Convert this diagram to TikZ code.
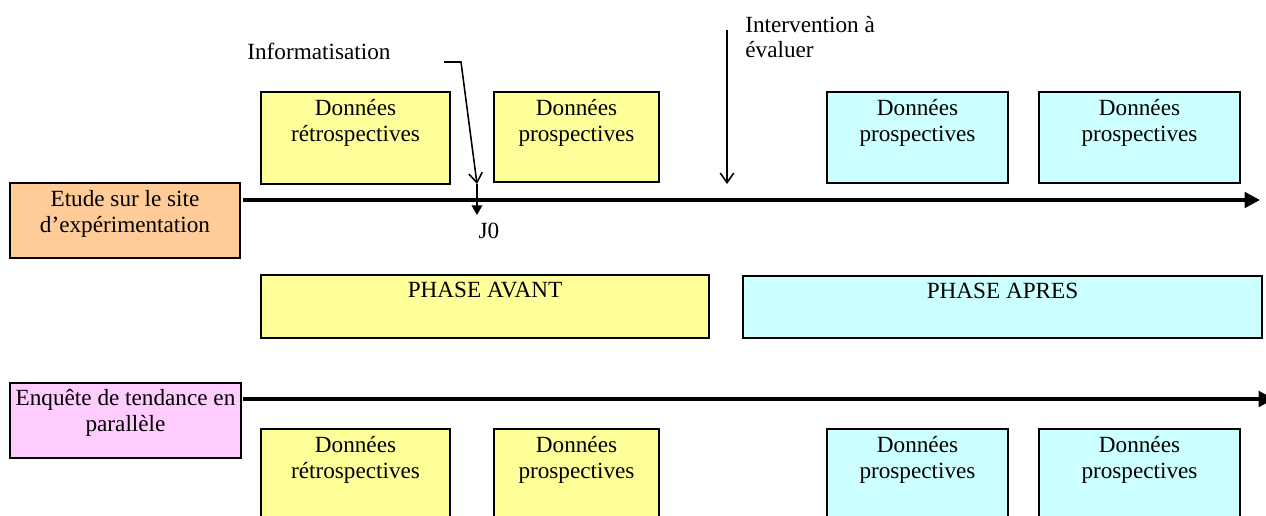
\documentclass[tikz,border=0pt]{standalone}
\usepackage{fontspec}
\setmainfont{Liberation Serif}
\usetikzlibrary{arrows.meta,calc,fit}
\definecolor{jaune}{HTML}{FFFF99}
\definecolor{bleuclair}{HTML}{CCFFFF}
\definecolor{orangeclair}{HTML}{FFCC99}
\definecolor{rose}{HTML}{FFCCFF}

\begin{document}
\begin{tikzpicture}[x=0.5172pt,y=-0.5172pt,
    boite/.style={draw, line width=0.75pt, inner sep=0pt, fit={#1}},
    texte/.style={font=\fontsize{12}{13.4}\selectfont, align=center, inner sep=0pt, anchor=base},
    axe/.style={line width=2pt, -{Triangle[length=8pt,width=8pt]}},
    fleche/.style={line width=0.8pt, -{Straight Barb[length=5pt,width=7pt]}},
    marque/.style={line width=0.8pt, -{Triangle[length=5pt,width=5.5pt]}}]
    \useasboundingbox (0,0) rectangle (1266,515);
    \clip (0,0) rectangle (1266,515);

    \node[boite={(10,183) (240,258)}, fill=orangeclair] (etude) {};
    \node[texte] (etudet) at ($(etude.north)+(0,50)$) {Etude sur le site\\d’expérimentation};
    \node[boite={(10,383) (241,458)}, fill=rose] (enquete) {};
    \node[texte] (enquetet) at ($(enquete.north)+(0,49)$) {Enquête de tendance en\\parallèle};

    \node[boite={(261,92) (450,184)}, fill=jaune] (retro1) {};
    \node[texte] (retro1t) at ($(retro1.north)+(0,50)$) {Données\\rétrospectives};
    \node[boite={(494,92) (659,182)}, fill=jaune] (prosp1) {};
    \node[texte] (prosp1t) at ($(prosp1.north)+(0,50)$) {Données\\prospectives};
    \node[boite={(827,92) (1008,183)}, fill=bleuclair] (prosp2) {};
    \node[texte] (prosp2t) at ($(prosp2.north)+(0,50)$) {Données\\prospectives};
    \node[boite={(1039,92) (1240,183)}, fill=bleuclair] (prosp3) {};
    \node[texte] (prosp3t) at ($(prosp3.north)+(0,50)$) {Données\\prospectives};

    \node[boite={(261,275) (709,338)}, fill=jaune] (avant) {};
    \node[texte] (avantt) at ($(avant.north)+(0,23)$) {PHASE AVANT};
    \node[boite={(743,276) (1262,338)}, fill=bleuclair] (apres) {};
    \node[texte] (aprest) at ($(apres.north)+(0,23)$) {PHASE APRES};

    \node[boite={(261,429) (450,540)}, fill=jaune] (retro4) {};
    \node[texte] (retro4t) at ($(retro4.north)+(0,50)$) {Données\\rétrospectives};
    \node[boite={(494,429) (659,540)}, fill=jaune] (prosp4) {};
    \node[texte] (prosp4t) at ($(prosp4.north)+(0,50)$) {Données\\prospectives};
    \node[boite={(827,429) (1008,540)}, fill=bleuclair] (prosp5) {};
    \node[texte] (prosp5t) at ($(prosp5.north)+(0,50)$) {Données\\prospectives};
    \node[boite={(1039,429) (1240,540)}, fill=bleuclair] (prosp6) {};
    \node[texte] (prosp6t) at ($(prosp6.north)+(0,50)$) {Données\\prospectives};

    \coordinate (debut1) at (243,200);
    \coordinate (fin1) at (1260,200);
    \coordinate (debut2) at (243,399);
    \coordinate (fin2) at (1274,399);
    \draw[axe] (debut1) -- (fin1);
    \draw[axe] (debut2) -- (fin2);

    \node[texte, anchor=base west] (info) at (247,60) {Informatisation};
    \coordinate (coude) at (461,62);
    \coordinate (jzero) at (477,184);
    \draw[fleche] (444,62) -- (coude) -- (jzero);
    \draw[marque] (jzero) -- (477,215);
    \node[texte] (j0) at (489,238) {J0};

    \node[texte, anchor=base west, align=left] (interv) at (745,58) {Intervention à\\évaluer};
    \coordinate (haut) at (727,30);
    \draw[fleche] (haut) -- (727,184);
\end{tikzpicture}
\end{document}
